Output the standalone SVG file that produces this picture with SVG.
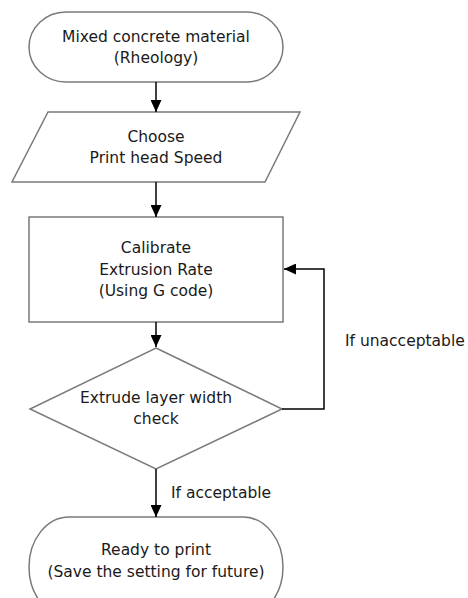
<svg xmlns="http://www.w3.org/2000/svg" width="468" height="598" viewBox="0 0 468 598">
<defs>
<marker id="ah" viewBox="0 0 12 11" refX="12" refY="5.5" markerWidth="12" markerHeight="11" markerUnits="userSpaceOnUse" orient="auto">
<path d="M0,0 L12,5.5 L0,11 Z" fill="#000"/>
</marker>
<style>
.shape{fill:#fff;stroke:#7a7a7a;stroke-width:1.5}
.t{font-family:"DejaVu Sans",Verdana,sans-serif;font-size:15.5px;fill:#1a1a1a;text-anchor:middle}
.l{font-family:"DejaVu Sans",Verdana,sans-serif;font-size:15.5px;fill:#1a1a1a}
.c{fill:none;stroke:#000;stroke-width:1.5;marker-end:url(#ah)}
</style>
</defs>
<rect width="468" height="598" fill="#fff"/>
<g id="start">
<rect class="shape" x="29" y="12" width="254" height="70" rx="37" ry="35"/>
<text class="t" x="156" y="42">Mixed concrete material</text>
<text class="t" x="156" y="63">(Rheology)</text>
</g>
<g id="speed">
<polygon class="shape" points="48,112 300,112 265,182 12,182"/>
<text class="t" x="156" y="142">Choose</text>
<text class="t" x="156" y="163">Print head Speed</text>
</g>
<g id="calibrate">
<rect class="shape" x="29" y="217" width="254" height="105"/>
<text class="t" x="156" y="253">Calibrate</text>
<text class="t" x="156" y="275">Extrusion Rate</text>
<text class="t" x="156" y="296">(Using G code)</text>
</g>
<g id="check">
<polygon class="shape" points="156,348 282,409 156,469 30,409"/>
<text class="t" x="156" y="403">Extrude layer width</text>
<text class="t" x="156" y="424">check</text>
</g>
<g id="ready">
<rect class="shape" x="29" y="517" width="254" height="100" rx="40" ry="50"/>
<text class="t" x="156" y="555">Ready to print</text>
<text class="t" x="156" y="577">(Save the setting for future)</text>
</g>
<g id="connectors">
<line class="c" x1="156" y1="82" x2="156" y2="112"/>
<line class="c" x1="156" y1="182" x2="156" y2="217"/>
<line class="c" x1="156" y1="322" x2="156" y2="347"/>
<polyline class="c" points="282,409 324,409 324,269 284,269"/>
<line class="c" x1="156" y1="469" x2="156" y2="517"/>
<text class="l" x="345" y="346">If unacceptable</text>
<text class="l" x="171" y="498">If acceptable</text>
</g>
</svg>
